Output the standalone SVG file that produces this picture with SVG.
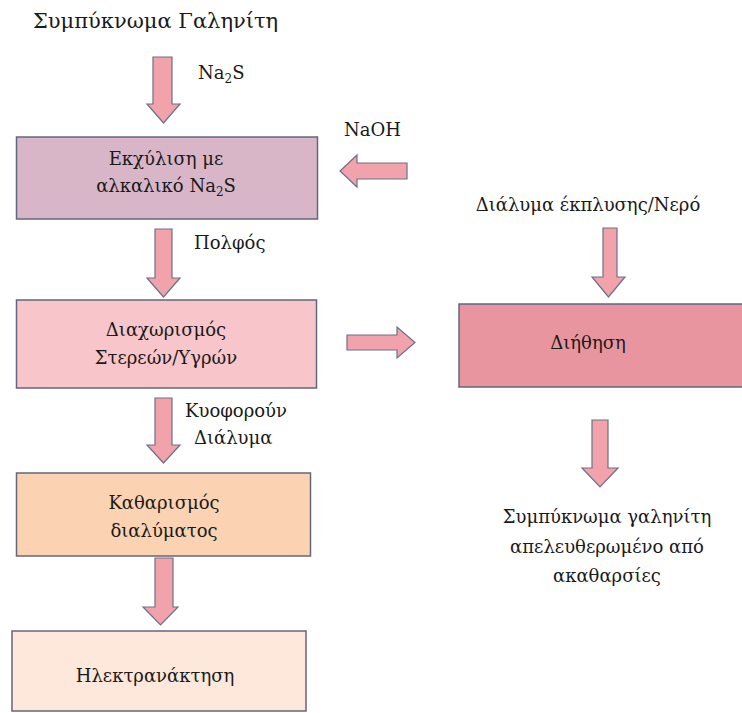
<svg xmlns="http://www.w3.org/2000/svg" width="742" height="713" viewBox="0 0 742 713">
<style>
.t{font-size:21px;}
.l{font-size:18px;}
.b{font-size:18px;text-anchor:middle;}
.box{stroke:#62677d;stroke-width:1.5;}
.arr{fill:#f2a2ab;stroke:#6b7088;stroke-width:1.2;stroke-linejoin:miter;}
</style>
<rect width="742" height="713" fill="#ffffff"/>
<g id="connectors">
<polygon class="arr" points="153,57 172,57 172,104 180,104 163.5,123 147,104 153,104"/>
<polygon class="arr" points="155,229 172,229 172,278 180,278 163.5,297 147,278 155,278"/>
<polygon class="arr" points="155,398 172,398 172,445 180,445 163.5,463 147,445 155,445"/>
<polygon class="arr" points="155,558 173,558 173,607 178,607 160.5,625 143,607 155,607"/>
<polygon class="arr" points="407,163 407,179 357,179 357,187 340,171 357,155 357,163"/>
<polygon class="arr" points="347,335 397,335 397,327 415,342.5 397,358 397,350 347,350"/>
<polygon class="arr" points="603,228 617,228 617,277 625,277 608.5,297 592,277 603,277"/>
<polygon class="arr" points="592,420 608,420 608,468 618,468 600,487 582,468 592,468"/>
</g>
<g font-family="'DejaVu Serif',serif" fill="#1a1a1a">
<text class="t" x="33" y="28">Συμπύκνωμα Γαληνίτη</text>
<text class="l" x="198" y="79">Na<tspan font-size="12" dy="4">2</tspan><tspan dy="-4">S</tspan></text>
<text class="l" x="344" y="136">NaOH</text>
<text class="l" x="194" y="249">Πολφός</text>
<text class="l" x="185" y="417">Κυοφορούν</text>
<text class="l" x="194" y="444">Διάλυμα</text>
<text class="b" x="588" y="211">Διάλυμα έκπλυσης/Νερό</text>
<g id="n1">
<rect class="box" x="16.5" y="137" width="301" height="82" fill="#d8b6c8"/>
<text class="b" x="166" y="165">Εκχύλιση  με</text>
<text class="b" x="166" y="192">αλκαλικό Na<tspan font-size="12" dy="4">2</tspan><tspan dy="-4">S</tspan></text>
</g>
<g id="n2">
<rect class="box" x="16.5" y="300" width="300" height="88" fill="#f8c6ca"/>
<text class="b" x="166" y="336">Διαχωρισμός</text>
<text class="b" x="166" y="364">Στερεών/Υγρών</text>
</g>
<g id="n3">
<rect class="box" x="16.5" y="473" width="294" height="83" fill="#fbd3b2"/>
<text class="b" x="164" y="509">Καθαρισμός</text>
<text class="b" x="164" y="537">διαλύματος</text>
</g>
<g id="n4">
<rect class="box" x="12" y="631" width="294" height="80" fill="#fde8db"/>
<text class="b" x="155" y="682">Ηλεκτρανάκτηση</text>
</g>
<g id="n5">
<rect class="box" x="459" y="304" width="290" height="83" fill="#e9959f"/>
<text class="b" x="588" y="349">Διήθηση</text>
</g>
<g id="n6">
<text class="b" x="607" y="523">Συμπύκνωμα  γαληνίτη</text>
<text class="b" x="607" y="553">απελευθερωμένο  από</text>
<text class="b" x="607" y="582">ακαθαρσίες</text>
</g>
</g>
</svg>
